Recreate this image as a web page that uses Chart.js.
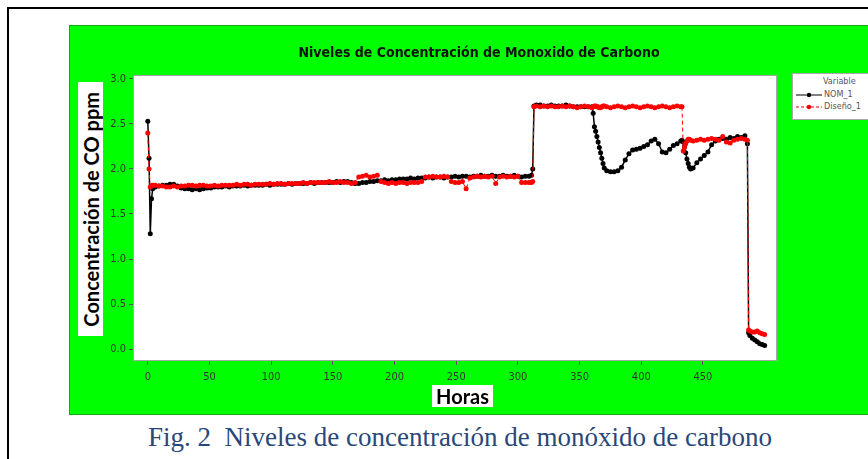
<!DOCTYPE html>
<html>
<head>
<meta charset="utf-8">
<script src="https://cdn.jsdelivr.net/npm/chart.js@4.4.1/dist/chart.umd.min.js"></script>
<style>
    html, body { margin: 0; padding: 0; }
    body { width: 868px; height: 459px; overflow: hidden; background: #fff; position: relative; }
    #frame { position: absolute; left: 7px; top: 7px; width: 900px; height: 500px; border-top: 2px solid #000; border-left: 2px solid #000; }
    #panel { position: absolute; left: 70px; top: 26px; width: 798px; height: 388px; background: #00ff00;
             outline: 1px solid #1aa81a; box-shadow: 0 0 2px #bbb; }
    #chart { position: absolute; left: 0; top: 0; }
    #title { position: absolute; left: 0; width: 958px; top: 44px; text-align: center;
             font: bold 14px "DejaVu Sans Condensed", "Liberation Sans Narrow", sans-serif; color: #111; }
    #ytitle { position: absolute; left: 78px; top: 82px; width: 25px; height: 254px; background: #fff;
              display: flex; align-items: center; justify-content: center; }
    #ytitle span { writing-mode: vertical-rl; transform: rotate(180deg); white-space: nowrap;
                   font: bold 20px Lato, "Open Sans", sans-serif; color: #000; }
    #xtitle { position: absolute; left: 432px; top: 385px; width: 61px; height: 22px; background: #fff;
              text-align: center; font: bold 20px/22px Lato, "Open Sans", sans-serif; color: #000; }
    #legend { position: absolute; left: 792px; top: 73px; width: 90px; height: 45px; background: #fff;
              border: 1px solid #aaa; font: 9px "DejaVu Sans Condensed", sans-serif; color: #555; }
    #legend .lt { position: absolute; left: 30px; top: 2px; }
    #legend .row { position: absolute; left: 3px; height: 10px; white-space: nowrap; }
    #legend svg { vertical-align: middle; margin-right: 2px; }
    #caption { position: absolute; left: 0; width: 920px; top: 422px; text-align: center;
               font: 27px "Liberation Serif", serif; color: #2a4778; }
</style>
</head>
<body>
<div id="frame"></div>
<div id="panel"><canvas id="chart" width="798" height="388"></canvas></div>
<div id="title">Niveles de Concentración de Monoxido de Carbono</div>
<div id="ytitle"><span>Concentración de CO ppm</span></div>
<div id="xtitle">Horas</div>
<div id="legend">
    <div class="lt">Variable</div>
    <div class="row" style="top:15px"><svg width="26" height="8"><line x1="0" y1="4" x2="26" y2="4" stroke="#000" stroke-width="1"/><circle cx="13" cy="4" r="2.2" fill="#000"/></svg>NOM_1</div>
    <div class="row" style="top:27px"><svg width="26" height="8"><line x1="0" y1="4" x2="26" y2="4" stroke="#e00" stroke-width="1" stroke-dasharray="3,2"/><circle cx="13" cy="4" r="2.2" fill="#e00"/></svg>Diseño_1</div>
</div>
<div id="caption">Fig. 2&nbsp; Niveles de concentración de monóxido de carbono</div>

<script>
// Horas de medición (eje X)
const horas = [
    0, 1, 2, 3, 4,
    6, 9, 12, 15, 18, 21, 24, 27, 30, 33,
    36, 39, 42, 45, 48, 51, 54, 57, 60, 63,
    66, 69, 72, 75, 78, 81, 84, 87, 90, 93,
    96, 99, 102, 105, 108, 111, 114, 117, 120, 123,
    126, 129, 132, 135, 138, 141, 144, 147, 150, 153,
    156, 159, 162, 165, 168, 171, 174, 177, 180, 183,
    186, 189, 192, 195, 198, 201, 204, 207, 210, 213,
    216, 219, 222, 225, 228, 231, 234, 237, 240, 243,
    246, 249, 252, 255, 258, 261, 264, 267, 270, 273,
    276, 279, 282, 285, 288, 291, 294, 297, 300, 303,
    306, 309,
    311, 312, 313,
    315, 318, 321, 324, 327, 330, 333, 336, 339, 342, 345, 348, 351, 354, 357, 360,
    361, 362, 363, 364, 365, 366, 367, 368, 369, 370,
    372, 375, 378, 381, 384, 387, 390, 393, 396, 399, 402, 405, 408, 411, 414, 417, 420, 423, 426, 429, 432,
    433, 434, 435, 436, 437, 438, 439, 440,
    442, 445, 448, 451, 454, 457, 460, 463, 466, 469, 472, 475, 478, 481, 484,
    486, 487, 488,
    490, 492, 494, 496, 498, 500
];

// Serie NOM_1 (negro)
const nom1 = [
    2.53, 2.12, 1.28, 1.67, 1.78,
    1.80, 1.81, 1.82, 1.82, 1.83, 1.83, 1.81, 1.79, 1.78, 1.78,
    1.77, 1.78, 1.77, 1.78, 1.79, 1.79, 1.80, 1.80, 1.80, 1.81,
    1.80, 1.81, 1.81, 1.81, 1.82, 1.81, 1.82, 1.82, 1.82, 1.82,
    1.83, 1.82, 1.83, 1.83, 1.83, 1.83, 1.84, 1.83, 1.84, 1.84,
    1.84, 1.84, 1.85, 1.84, 1.85, 1.85, 1.85, 1.85, 1.85, 1.86,
    1.85, 1.86, 1.86, 1.85, 1.84, 1.84, 1.85, 1.85, 1.86, 1.86,
    1.87, 1.87, 1.88, 1.87, 1.88, 1.88, 1.89, 1.89, 1.89, 1.90,
    1.89, 1.90, 1.90, 1.90, 1.91, 1.90, 1.91, 1.91, 1.90, 1.91,
    1.91, 1.92, 1.91, 1.92, 1.92, 1.91, 1.92, 1.92, 1.93, 1.92,
    1.92, 1.93, 1.92, 1.92, 1.93, 1.92, 1.92, 1.93, 1.92, 1.91,
    1.92, 1.92,
    1.93, 2.00, 2.70,
    2.71, 2.71, 2.70, 2.70, 2.71, 2.70, 2.70, 2.70, 2.71, 2.70, 2.69, 2.69, 2.69, 2.69, 2.69, 2.69,
    2.62, 2.47, 2.42, 2.36, 2.30, 2.24, 2.18, 2.12, 2.06, 2.01,
    1.98, 1.97, 1.97, 1.98, 2.02, 2.10, 2.17, 2.21, 2.22, 2.23, 2.25, 2.27, 2.31, 2.33, 2.28, 2.19, 2.18, 2.22, 2.26, 2.28, 2.31,
    2.32, 2.30, 2.25, 2.18, 2.11, 2.06, 2.02, 2.00,
    2.01, 2.07, 2.11, 2.15, 2.19, 2.27, 2.31, 2.33, 2.34, 2.33, 2.35, 2.34, 2.36, 2.35, 2.37,
    2.28, 0.18, 0.15,
    0.12, 0.10, 0.08, 0.06, 0.05, 0.04
];

// Serie Diseño_1 (rojo)
const diseno = [
    2.40, 2.00, 1.80, 1.81, 1.82,
    1.82, 1.81, 1.81, 1.80, 1.80, 1.81, 1.80, 1.81, 1.81, 1.82,
    1.82, 1.81, 1.82, 1.82, 1.81, 1.81, 1.82, 1.81, 1.82, 1.82,
    1.82, 1.82, 1.83, 1.82, 1.83, 1.83, 1.82, 1.83, 1.83, 1.83,
    1.83, 1.84, 1.83, 1.84, 1.84, 1.83, 1.84, 1.84, 1.84, 1.84,
    1.85, 1.84, 1.85, 1.85, 1.85, 1.85, 1.85, 1.86, 1.85, 1.85,
    1.86, 1.85, 1.85, 1.84, 1.85, 1.91, 1.92, 1.93, 1.91, 1.92,
    1.93, 1.86, 1.85, 1.84, 1.85, 1.84, 1.85, 1.85, 1.84, 1.85,
    1.85, 1.85, 1.86, 1.91, 1.91, 1.92, 1.91, 1.91, 1.92, 1.91,
    1.86, 1.85, 1.85, 1.86, 1.78, 1.90, 1.91, 1.92, 1.91, 1.92,
    1.91, 1.92, 1.84, 1.91, 1.92, 1.91, 1.92, 1.91, 1.92, 1.85,
    1.85, 1.85,
    1.85, 1.86, 2.69,
    2.70, 2.69, 2.70, 2.69, 2.70, 2.69, 2.69, 2.70, 2.69, 2.70, 2.69, 2.68, 2.69, 2.70, 2.69, 2.68,
    2.69, 2.70, 2.70, 2.69, 2.69, 2.68, 2.68, 2.69, 2.70, 2.70,
    2.69, 2.68, 2.69, 2.70, 2.69, 2.68, 2.69, 2.70, 2.69, 2.68, 2.69, 2.70, 2.69, 2.68, 2.69, 2.70, 2.69, 2.68, 2.69, 2.70, 2.69,
    2.69, 2.20, 2.24, 2.28, 2.31, 2.33, 2.33, 2.32,
    2.31, 2.32, 2.33, 2.32, 2.33, 2.34, 2.33, 2.32, 2.36, 2.30, 2.29, 2.32, 2.33, 2.34, 2.33,
    2.32, 0.21, 0.20,
    0.19, 0.19, 0.20, 0.18, 0.17, 0.16
];

const xTicks = [0, 50, 100, 150, 200, 250, 300, 350, 400, 450];
const yTicks = [0.0, 0.5, 1.0, 1.5, 2.0, 2.5, 3.0];

const tickFont = { family: '"DejaVu Sans Condensed", "Liberation Sans Narrow", sans-serif', size: 11 };

// fondo blanco y borde gris del area de trazado
const plotArea = {
    id: 'plotArea',
    beforeDraw(chart) {
        const { ctx, chartArea: a } = chart;
        ctx.save();
        ctx.fillStyle = '#ffffff';
        ctx.fillRect(a.left, a.top, a.width, a.height);
        ctx.strokeStyle = '#a8a8a8';
        ctx.lineWidth = 1;
        ctx.strokeRect(a.left + 0.5, a.top + 0.5, a.width - 1, a.height - 1);
        ctx.restore();
    }
};

new Chart(document.getElementById('chart'), {
    type: 'line',
    data: {
        datasets: [
            {
                label: 'NOM_1',
                data: horas.map((h, i) => ({ x: h, y: nom1[i] })),
                borderColor: '#000000',
                backgroundColor: '#000000',
                borderWidth: 1.5,
                pointRadius: 2.5,
                pointBorderWidth: 0,
                order: 1
            },
            {
                label: 'Diseño_1',
                data: horas.map((h, i) => ({ x: h, y: diseno[i] })),
                borderColor: '#ff0000',
                backgroundColor: '#ff0000',
                borderWidth: 1,
                borderDash: [4, 3],
                pointRadius: 2.5,
                pointBorderWidth: 0,
                order: 0
            }
        ]
    },
    options: {
        responsive: false,
        animation: false,
        layout: { padding: { top: 49, right: 91, left: 0, bottom: 0 } },
        plugins: {
            legend: { display: false },
            title: { display: false },
            tooltip: { enabled: false }
        },
        scales: {
            x: {
                type: 'linear',
                min: -12,
                max: 510,
                afterBuildTicks: s => { s.ticks = xTicks.map(v => ({ value: v })); },
                afterFit: s => { s.height = 53; },
                border: { display: false },
                grid: { drawOnChartArea: false, drawTicks: true, tickLength: 4, color: '#555' },
                ticks: { font: tickFont, color: '#333', padding: 6, maxRotation: 0 }
            },
            y: {
                min: -0.133,
                max: 3.044,
                afterBuildTicks: s => { s.ticks = yTicks.map(v => ({ value: v })); },
                afterFit: s => { s.width = 63; },
                border: { display: false },
                grid: { drawOnChartArea: false, drawTicks: true, tickLength: 4, color: '#555' },
                ticks: { font: tickFont, color: '#333', padding: 3, callback: v => v.toFixed(1) }
            }
        }
    },
    plugins: [plotArea]
});
</script>
</body>
</html>
